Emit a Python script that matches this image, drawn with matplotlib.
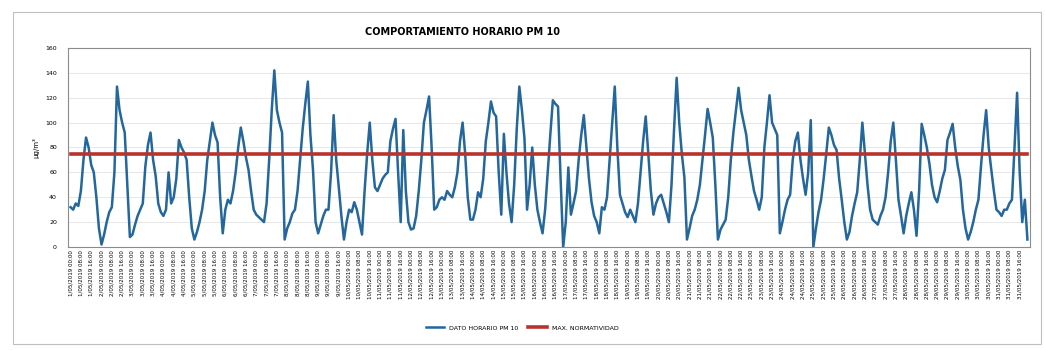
import numpy as np
import matplotlib.pyplot as plt
from matplotlib.patches import Rectangle

# PM10 hourly behaviour, one row per day, values every 2 hours (ug/m3)
dias = list(range(1, 32))
horas = [0, 8, 16]
pm10 = [
    [32, 30, 35, 33, 45, 70, 88, 80, 66, 60, 40, 15],
    [2, 10, 20, 28, 32, 60, 129, 110, 100, 92, 50, 8],
    [10, 18, 25, 30, 35, 65, 82, 92, 70, 57, 35, 28],
    [25, 30, 60, 35, 40, 55, 86, 80, 76, 70, 40, 15],
    [6, 12, 20, 30, 45, 70, 85, 100, 90, 84, 40, 11],
    [30, 38, 35, 45, 60, 80, 96, 85, 72, 62, 45, 30],
    [26, 24, 22, 20, 35, 70, 110, 142, 110, 100, 92, 6],
    [15, 20, 27, 30, 45, 70, 95, 115, 133, 90, 62, 20],
    [11, 18, 25, 30, 30, 60, 106, 70, 48, 25, 6, 20],
    [30, 28, 36, 30, 20, 10, 45, 75, 100, 70, 48, 45],
    [50, 55, 58, 60, 85, 95, 103, 60, 20, 94, 45, 20],
    [14, 15, 25, 45, 70, 100, 110, 121, 80, 30, 32, 38],
    [40, 38, 45, 42, 40, 48, 60, 85, 100, 75, 40, 22],
    [22, 30, 44, 40, 55, 85, 100, 117, 108, 105, 60, 26],
    [91, 60, 35, 20, 50, 95, 129, 110, 87, 30, 50, 80],
    [50, 30, 20, 11, 30, 60, 90, 118, 115, 113, 55, 0],
    [20, 64, 26, 35, 45, 70, 90, 106, 80, 55, 36, 25],
    [20, 11, 32, 30, 40, 70, 100, 129, 80, 42, 35, 28],
    [24, 30, 25, 20, 35, 60, 85, 105, 75, 45, 26, 35],
    [40, 42, 35, 28, 20, 50, 95, 136, 100, 75, 56, 6],
    [15, 25, 30, 38, 50, 70, 90, 111, 100, 88, 50, 6],
    [14, 18, 22, 40, 70, 92, 110, 128, 110, 100, 90, 70],
    [57, 45, 38, 30, 40, 80, 100, 122, 100, 95, 90, 11],
    [20, 30, 38, 42, 70, 85, 92, 70, 55, 42, 60, 102],
    [0, 15, 28, 38, 55, 75, 96, 90, 82, 78, 55, 38],
    [20, 6, 12, 25, 35, 44, 70, 100, 75, 50, 30, 22],
    [20, 18, 25, 30, 40, 60, 85, 100, 70, 38, 25, 11],
    [25, 35, 44, 30, 9, 45, 99, 90, 80, 67, 50, 40],
    [36, 45, 55, 62, 86, 92, 99, 80, 65, 54, 30, 15],
    [6, 12, 20, 30, 38, 65, 90, 110, 80, 62, 45, 30],
    [28, 25, 30, 30, 35, 38, 80, 124, 60, 20, 38, 6],
]
norma = 75

serie = np.array(pm10).ravel()
x = np.arange(len(serie))
etiquetas = [f"{d}/05/2019 {h:02d}:00" for d in dias for h in horas]
pos_etiquetas = np.arange(len(etiquetas)) * 4

fig = plt.figure(figsize=(10.46, 3.51), dpi=100)
ax = fig.add_axes([0.065, 0.2963, 0.9197, 0.567])

ax.plot(x, serie, color="#23679C", lw=1.8, label="DATO HORARIO PM 10")
ax.plot(x, [norma] * len(x), color="#B8332E", lw=2.6, label="MAX. NORMATIVIDAD")

ax.set_ylim(0, 160)
ax.set_yticks(range(0, 161, 20))
ax.set_xlim(-1, len(serie))
ax.set_xticks(pos_etiquetas)
ax.set_xticklabels(etiquetas, rotation=90, fontsize=4)
ax.tick_params(axis="y", labelsize=4.5, length=0, pad=8)
ax.tick_params(axis="x", length=0, pad=2)
ax.grid(axis="y", color="#e3e3e3", lw=0.6)
ax.set_axisbelow(True)
for s in ax.spines.values():
    s.set_color("#8c8c8c")
    s.set_linewidth(0.8)

ax.set_ylabel("µg/m³", fontsize=5)
fig.text(0.442, 0.91, "COMPORTAMIENTO HORARIO PM 10", ha="center", va="center",
         fontsize=7, fontweight="bold")
fig.legend(loc="center", bbox_to_anchor=(0.499, 0.066), ncol=2, frameon=False,
           fontsize=4.5, handlelength=3, columnspacing=1.5)

fig.patches.append(Rectangle((0.012, 0.02), 0.983, 0.945, transform=fig.transFigure,
                             fill=False, ec="#bfbfbf", lw=0.8))

plt.savefig("out.png", dpi=100)
